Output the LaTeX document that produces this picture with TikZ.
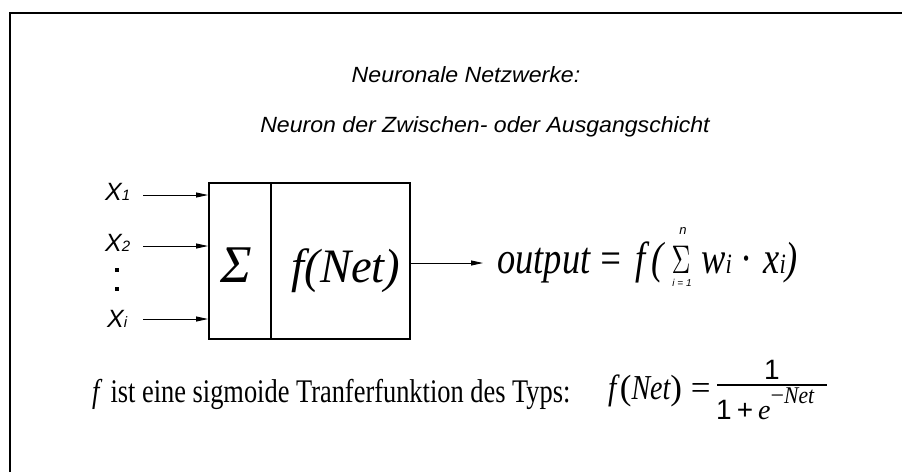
\documentclass[tikz,border=0pt]{standalone}
\usepackage{fontspec}
\usepackage{graphicx}
\setmainfont{Liberation Serif}
\newfontfamily\hel{Liberation Sans}
\usetikzlibrary{arrows.meta}
\tikzset{
  frame/.style={line width=2.4pt},
  arr/.style={line width=0.9pt,-{Triangle[length=12pt,width=5pt]}},
  title/.style={inner sep=0pt,anchor=base,font=\hel\itshape\fontsize{22}{22}\selectfont},
  xlab/.style={inner sep=0pt,anchor=base west,font=\hel\itshape\fontsize{25}{25}\selectfont},
  ser/.style={inner sep=0pt,anchor=base west},
  dotsq/.style={fill=black,inner sep=0pt,minimum size=3.8pt},
}
\newcommand{\hsub}[1]{{\fontsize{15}{15}\selectfont #1}}
\begin{document}
\begin{tikzpicture}[x=1pt,y=1pt]
\useasboundingbox (0,0) rectangle (902,-472);
% frame
\draw[frame] (10,-472) -- (10,-13) -- (902,-13);
% titles
\node[title] (t1) at (466,-82) {\scalebox{1.05}[1]{Neuronale Netzwerke:}};
\node[title] (t2) at (485,-132) {\scalebox{1.05}[1]{Neuron der Zwischen- oder Ausgangschicht}};
% neuron box
\node[draw,line width=2pt,minimum width=201pt,minimum height=156pt,inner sep=0pt] (box) at (309.5,-261) {};
\coordinate (dv) at (271,-183);
\draw[line width=1.1pt] (dv |- box.north) -- (dv |- box.south);
\node[inner sep=0pt,anchor=base] (sig) at (236,-282) {\fontsize{53}{53}\selectfont\itshape Σ};
\node[inner sep=0pt,anchor=base] (fnet) at (346,-282) {\scalebox{0.97}[1]{\fontsize{48}{48}\selectfont\itshape f(Net)}};
% inputs
\node[xlab] (x1) at (105,-200) {X\hsub{1}};
\node[xlab] (x2) at (105,-251) {X\hsub{2}};
\node[xlab] (xi) at (107,-327) {X\hsub{i}};
\node[dotsq] (d1) at (117,-270) {};
\node[dotsq] (d2) at (117,-289) {};
\coordinate (a1) at (143,-195);
\coordinate (a2) at (143,-246);
\coordinate (ai) at (143,-319);
\draw[arr] (a1) -- (box.west |- a1);
\draw[arr] (a2) -- (box.west |- a2);
\draw[arr] (ai) -- (box.west |- ai);
% output
\coordinate (oe) at (483,-263);
\draw[arr] (box.east |- oe) -- (oe);
\node[ser] (out) at (497,-273) {\scalebox{0.81}[1]{\fontsize{45}{45}\selectfont\itshape output\hspace{10pt}=\hspace{15pt}f\hspace{7pt}(}};
\node[inner sep=0pt,anchor=base] (bigsum) at (681,-273) {\scalebox{2.6}[4.0]{$\Sigma$}};
\node[inner sep=0pt,anchor=base] (sumn) at (683,-234) {\hel\itshape\fontsize{13}{13}\selectfont n};
\node[inner sep=0pt,anchor=base] (sumi) at (682,-286) {\hel\itshape\fontsize{10}{10}\selectfont i = 1};
\node[ser] (wx) at (701,-273) {\scalebox{0.81}[1]{\fontsize{45}{45}\selectfont\itshape w{\fontsize{28}{28}\selectfont i}\hspace{11pt}{\upshape·}\hspace{13pt}x{\fontsize{28}{28}\selectfont i})}};
% bottom line
\node[ser] (txt) at (92,-402) {\scalebox{0.8}[1]{\fontsize{33}{33}\selectfont{\itshape f}\, ist eine sigmoide Tranferfunktion des Typs:}};
\node[ser] (fn2) at (608,-399) {\scalebox{0.85}[1]{\fontsize{35}{35}\selectfont\itshape f\/}{\fontsize{35}{35}\selectfont(}\scalebox{0.8}[1]{\fontsize{35}{35}\selectfont\itshape Net}{\fontsize{35}{35}\selectfont) =}};
\coordinate (bl) at (717,-385);
\coordinate (br) at (827,-385);
\draw[line width=1.4pt] (bl) -- (br);
\node[inner sep=0pt,anchor=base] (num) at (772,-379) {\hel\fontsize{28}{28}\selectfont 1};
\node[ser] (den) at (716,-419) {\hel\fontsize{28}{28}\selectfont 1\hspace{5pt}+\hspace{5pt}{\rmfamily\itshape e}\raisebox{16pt}{\rmfamily\fontsize{24}{24}\selectfont −\scalebox{0.9}[1]{\itshape Net}}};
\end{tikzpicture}
\end{document}
